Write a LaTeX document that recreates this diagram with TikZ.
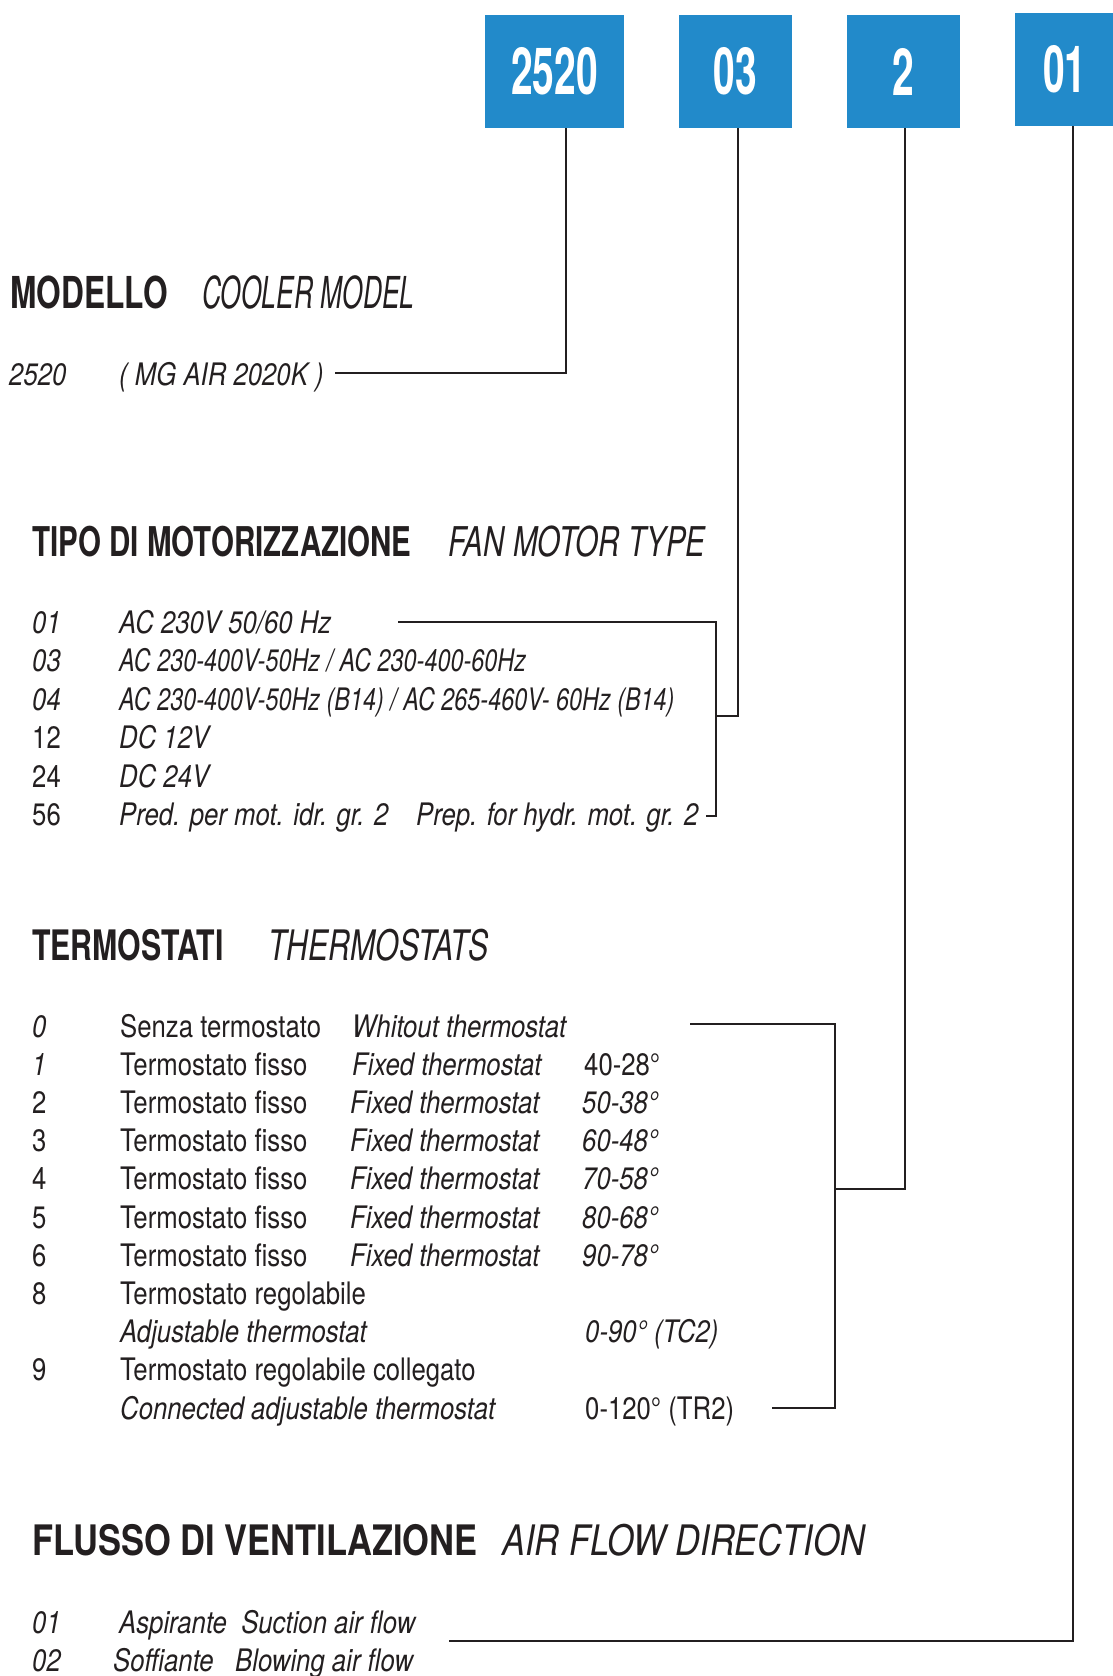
\documentclass[tikz,border=0pt]{standalone}
\usepackage{fontspec}
\setmainfont{TeX Gyre Heros}[FakeStretch=0.83]
\newfontfamily\rownarrow{TeX Gyre Heros}[FakeStretch=0.755]
\newfontfamily\headfont{TeX Gyre Heros}[FakeStretch=0.72]
\newfontfamily\headnarrow{TeX Gyre Heros}[FakeStretch=0.6]
\newfontfamily\headwide{TeX Gyre Heros}[FakeStretch=0.82]
\newfontfamily\boxfont{TeX Gyre Heros}[FakeStretch=0.6]
\usetikzlibrary{positioning}
\definecolor{codeblue}{RGB}{34,138,202}
\definecolor{inkgray}{RGB}{35,31,32}

\begin{document}
\begin{tikzpicture}[
      x=1pt, y=-1pt,
      node distance=54.5pt,
      codebox/.style={fill=codeblue, text=white, minimum width=113pt,
                      minimum height=113pt, inner sep=0pt,
                      font=\boxfont\bfseries\fontsize{65}{65}\selectfont},
      lead/.style={draw=inkgray, line width=2pt},
      head/.style={anchor=base west, inner sep=0pt, text=inkgray,
                   font=\headfont\bfseries\fontsize{#1}{#1}\selectfont},
      headit/.style={anchor=base west, inner sep=0pt, text=inkgray,
                     font=\headfont\itshape\fontsize{#1}{#1}\selectfont},
      row/.style={anchor=base west, inner sep=0pt, text=inkgray,
                  font=\fontsize{31}{32}\selectfont},
      rowit/.style={row, font=\itshape\fontsize{31}{32}\selectfont},
      rowtight/.style={row, font=\rownarrow\itshape\fontsize{31}{32}\selectfont}
    ]
    \useasboundingbox (0,0) rectangle (1113,1676);

    % code boxes
    \node[codebox, minimum width=139pt] (bmodel) at (554.5,71.5) {2520};
    \node[codebox, right=of bmodel] (bmotor) {03};
    \node[codebox, right=of bmotor] (btherm) {2};
    \node[codebox, minimum width=100pt, right=of btherm, yshift=2pt] (bflow) {01};

    % modello
    \node[head=44] (mdlh) at (10,308) {MODELLO};
    \node[headit=44, font=\headnarrow\itshape\fontsize{44}{44}\selectfont] (mdlhe) at (202,308) {COOLER MODEL};
    \node[rowit] (mdlc) at (9,385) {2520};
    \node[rowit] (mdlt) at (119,385) {( MG AIR 2020K )};
    \coordinate (mdlend) at (335,373);

    % motorizzazione
    \node[head=41] (moth) at (32,556) {TIPO DI MOTORIZZAZIONE};
    \node[headit=41] (mothe) at (448,556) {FAN MOTOR TYPE};
    \node[rowit] (mot01) at (32,633) {01};
    \node[rowit] (mot01t) at (119,633) {AC 230V 50/60 Hz};
    \node[rowit] (mot03) at (32,671.5) {03};
    \node[rowtight] (mot03t) at (119,671.5) {AC 230-400V-50Hz / AC 230-400-60Hz};
    \node[rowit] (mot04) at (32,710) {04};
    \node[rowtight] (mot04t) at (119,710) {AC 230-400V-50Hz (B14) / AC 265-460V- 60Hz (B14)};
    \node[row] (mot12) at (32,748.5) {12};
    \node[rowit] (mot12t) at (119,748.5) {DC 12V};
    \node[row] (mot24) at (32,787) {24};
    \node[rowit] (mot24t) at (119,787) {DC 24V};
    \node[row] (mot56) at (32,825.5) {56};
    \node[rowit] (mot56t) at (119,825.5) {Pred. per mot. idr. gr. 2};
    \node[rowit] (mot56e) at (416,825.5) {Prep. for hydr. mot. gr. 2};
    \coordinate (mottop) at (398,622);
    \coordinate (motjoin) at (716,716);
    \coordinate (motbot) at (706,816);

    % termostati
    \node[head=42] (terh) at (32,960) {TERMOSTATI};
    \node[headit=42] (terhe) at (268,960) {THERMOSTATS};
    \node[rowit] (ter0) at (32,1037) {0};
    \node[row] (ter0t) at (120,1037) {Senza termostato};
    \node[rowit] (ter0e) at (352,1037) {Whitout thermostat};
    \node[rowit] (ter1) at (32,1075) {1};
    \node[row] (ter1t) at (120,1075) {Termostato fisso};
    \node[rowit] (ter1e) at (352,1075) {Fixed thermostat};
    \node[row] (ter1r) at (584,1075) {40-28°};
    \foreach \c/\r [count=\k from 2] in {2/50-38, 3/60-48, 4/70-58, 5/80-68, 6/90-78} {
      \node[row] (ter\c) at (32,1037+38.2*\k) {\c};
      \node[row] (ter\c t) at (120,1037+38.2*\k) {Termostato fisso};
      \node[rowit] (ter\c e) at (350,1037+38.2*\k) {Fixed thermostat};
      \node[rowit] (ter\c r) at (582,1037+38.2*\k) {\r°};
    }
    \node[row] (ter8) at (32,1304.4) {8};
    \node[row] (ter8t) at (120,1304.4) {Termostato regolabile};
    \node[rowit] (ter8e) at (120,1342.6) {Adjustable thermostat};
    \node[rowit] (ter8r) at (585,1342.6) {0-90° (TC2)};
    \node[row] (ter9) at (32,1380.8) {9};
    \node[row] (ter9t) at (120,1380.8) {Termostato regolabile collegato};
    \node[rowit] (ter9e) at (120,1419) {Connected adjustable thermostat};
    \node[row] (ter9r) at (585,1419) {0-120° (TR2)};
    \coordinate (tertop) at (690,1024);
    \coordinate (terjoin) at (835,1189);
    \coordinate (terbot) at (772,1408);

    % flusso
    \node[head=42, font=\headwide\bfseries\fontsize{42}{42}\selectfont] (flxh) at (32,1555) {FLUSSO DI VENTILAZIONE};
    \node[headit=42, font=\headwide\itshape\fontsize{42}{42}\selectfont] (flxhe) at (502,1555) {AIR FLOW DIRECTION};
    \node[rowit] (flx01) at (32,1633) {01};
    \node[rowit] (flx01t) at (119,1633) {Aspirante~ Suction air flow};
    \node[rowit] (flx02) at (32,1671) {02};
    \node[rowit] (flx02t) at (113,1671) {Soffiante~~ Blowing air flow};
    \coordinate (flxend) at (449,1641);

    % leaders
    \draw[lead] ([xshift=11pt]bmodel.south) |- (mdlend);
    \draw[lead] ([xshift=3pt]bmotor.south) |- (motjoin);
    \draw[lead] (mottop) -| (motjoin |- motbot) -- (motbot);
    \draw[lead] ([xshift=2pt]btherm.south) |- (terjoin);
    \draw[lead] (tertop) -| (terjoin |- terbot) -- (terbot);
    \draw[lead] ([xshift=8pt]bflow.south) |- (flxend);
  \end{tikzpicture}
\end{document}
